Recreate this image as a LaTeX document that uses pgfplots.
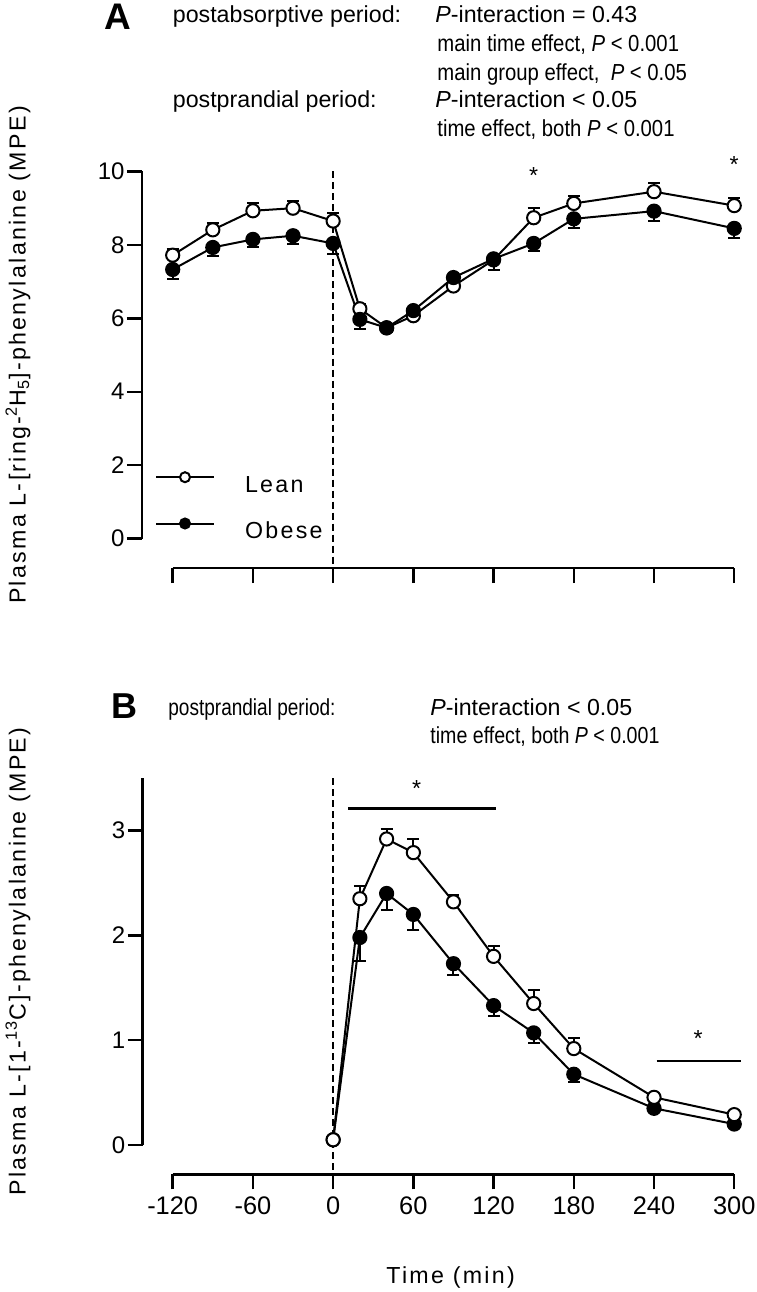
\documentclass[border=0pt]{standalone}
\usepackage{fontspec}
\setmainfont{Liberation Sans}
\newfontfamily\spaced[LetterSpace=10]{Liberation Sans}
\usepackage{graphicx}
\usepackage{pgfplots}
\usepackage{pgfplotstable}
\pgfplotsset{compat=1.18}

\newcommand{\fsz}{\fontsize{11.6pt}{14pt}\selectfont}

% panel A: L-[ring-2H5]-phenylalanine, MPE (mean, SEM)
\pgfplotstableread{
t y e
-120 7.72 0.16
-90 8.41 0.18
-60 8.93 0.20
-30 9.00 0.20
0 8.65 0.21
20 6.26 0.12
40 5.74 0.05
60 6.07 0.05
90 6.88 0.05
120 7.59 0.10
150 8.74 0.27
180 9.13 0.21
240 9.45 0.23
300 9.07 0.22
}\leanA
\pgfplotstableread{
t y e
-120 7.33 0.26
-90 7.93 0.23
-60 8.15 0.22
-30 8.25 0.23
0 8.04 0.30
20 5.97 0.26
40 5.74 0.10
60 6.21 0.08
90 7.11 0.05
120 7.62 0.30
150 8.04 0.21
180 8.71 0.24
240 8.92 0.27
300 8.45 0.27
}\obeseA
% panel B: L-[1-13C]-phenylalanine
\pgfplotstableread{
t y e
0 0.05 0.01
20 2.35 0.12
40 2.92 0.10
60 2.79 0.13
90 2.32 0.07
120 1.80 0.10
150 1.35 0.13
180 0.92 0.10
240 0.455 0.02
300 0.29 0.02
}\leanB
\pgfplotstableread{
t y e
0 0.05 0.01
20 1.98 0.22
40 2.40 0.16
60 2.20 0.15
90 1.73 0.11
120 1.33 0.10
150 1.07 0.10
180 0.675 0.075
240 0.35 0.02
300 0.20 0.02
}\obeseB

\pgfplotsset{
  panel/.style={
    x=0.6685pt,
    xmin=-120, xmax=300, ymin=0,
    axis lines=left,
    axis line style={line width=1.2pt,-},
    tick align=outside,
    major tick length=7.5pt,
    tick style={line width=1.2pt,black},
    xtick={-120,-60,...,300},
    clip=false,
    /pgf/number format/assume math mode=true,
    xticklabel style={font=\fontsize{12.7pt}{15pt}\selectfont},
    yticklabel style={font=\fontsize{12pt}{14pt}\selectfont, inner sep=1pt},
    every axis y label/.style={at={(axis description cs:-0.2755,0.5)},rotate=90,anchor=center,font=\spaced\fsz},
  },
  lean/.style={black, line width=1pt, mark=*, mark size=3.3pt,
    mark options={solid, fill=white, line width=1pt}},
  obese/.style={black, line width=1pt, mark=*, mark size=3.3pt,
    mark options={solid, fill=black, line width=1pt}},
  errup/.style={error bars/.cd, y dir=plus, y explicit,
    error bar style={line width=1pt},
    error mark options={rotate=90, mark size=3pt, line width=1pt}},
  errdn/.style={error bars/.cd, y dir=minus, y explicit,
    error bar style={line width=1pt},
    error mark options={rotate=90, mark size=3pt, line width=1pt}},
}

\begin{document}
\begin{tikzpicture}
\path[use as bounding box] (-86.35pt,-376.75pt) rectangle (291.65pt,269.25pt);

% ---- A ----
\begin{axis}[panel,
  at={(0pt,0pt)}, anchor=south west,
  y=18.35pt, ymax=10,
  axis x line shift=14.75pt,
  axis y line shift=15.35pt,
  ytick={0,2,...,10},
  xticklabels={},
  ylabel={Plasma L-[ring-\textsuperscript{2}H\textsubscript{5}]-phenylalanine (MPE)},
  legend style={draw=none, fill=none, at={(axis description cs:-0.0315,0.0858)},
    anchor=west, inner sep=0pt, outer sep=0pt, row sep=11.7pt, column sep=15pt,
    font=\spaced\fsz, nodes={inner sep=0pt}},
  legend cell align=left,
  legend image code/.code={
    \draw[mark repeat=2,mark phase=2,mark size=2.5pt]
      plot coordinates {(0pt,4.2pt) (14.5pt,4.2pt) (29pt,4.2pt)};},
]
\draw[line width=0.9pt, dash pattern=on 3.5pt off 2pt]
  (axis cs:0,10) -- ([yshift=-22.25pt]axis cs:0,0);
\addplot[lean, errup] table[x=t, y=y, y error=e] {\leanA};
\addplot[obese, errdn] table[x=t, y=y, y error=e] {\obeseA};
\legend{Lean,Obese}
\node[font=\fsz] at (axis cs:150,9.88) {*};
\node[font=\fsz] at (axis cs:300,10.18) {*};
\end{axis}

% ---- B ----
\begin{axis}[panel,
  at={(0pt,-303.25pt)}, anchor=south west,
  y=52.4pt, ymax=3.5,
  axis x line shift=14.65pt,
  axis y line shift=15pt,
  ytick={0,1,2,3},
  ylabel={Plasma L-[1-\textsuperscript{13}C]-phenylalanine (MPE)},
  xlabel={Time (min)},
  every axis x label/.style={at={(axis description cs:0.495,-0.36)},anchor=center,font=\spaced\fsz},
]
\draw[line width=0.9pt, dash pattern=on 3.5pt off 2pt]
  (axis cs:0,3.5) -- ([yshift=-22.15pt]axis cs:0,0);
\addplot[obese, errdn] table[x=t, y=y, y error=e] {\obeseB};
\addplot[lean, errup] table[x=t, y=y, y error=e] {\leanB};
\draw[line width=1.2pt] (axis cs:11.2,3.21) -- (axis cs:121.7,3.21);
\node[font=\fsz] at (axis cs:62.4,3.40) {*};
\draw[line width=1.2pt] (axis cs:242,0.80) -- (axis cs:305,0.80);
\node[font=\fsz] at (axis cs:273,1.02) {*};
\end{axis}

% ---- panel letters and statistics ----
\begin{scope}[every node/.style={inner sep=0pt, anchor=base west, font=\fsz}]
\node[font=\fontsize{18.5pt}{21pt}\selectfont\bfseries] at (-34.35pt,254.25pt) {A};
\node at (-0.1pt,258.25pt) {postabsorptive period:};
\node at (131.15pt,258.25pt) {\textit{P}-interaction = 0.43};
\node at (132.15pt,243.4pt) {\scalebox{0.875}[1]{main time effect, \textit{P} < 0.001}};
\node at (132.15pt,229.25pt) {\scalebox{0.875}[1]{main group effect,\ \ \textit{P} < 0.05}};
\node at (-0.1pt,215.25pt) {postprandial period:};
\node at (131.15pt,215.25pt) {\textit{P}-interaction < 0.05};
\node at (132.15pt,200.75pt) {\scalebox{0.875}[1]{time effect, both \textit{P} < 0.001}};

\node[font=\fontsize{18pt}{21pt}\selectfont\bfseries] at (-30.85pt,-89.75pt) {B};
\node at (-2.35pt,-88.25pt) {\scalebox{0.82}[1]{postprandial period:}};
\node at (128.65pt,-88.25pt) {\textit{P}-interaction < 0.05};
\node at (128.65pt,-102.5pt) {\scalebox{0.845}[1]{time effect, both \textit{P} < 0.001}};
\end{scope}
\end{tikzpicture}
\end{document}
